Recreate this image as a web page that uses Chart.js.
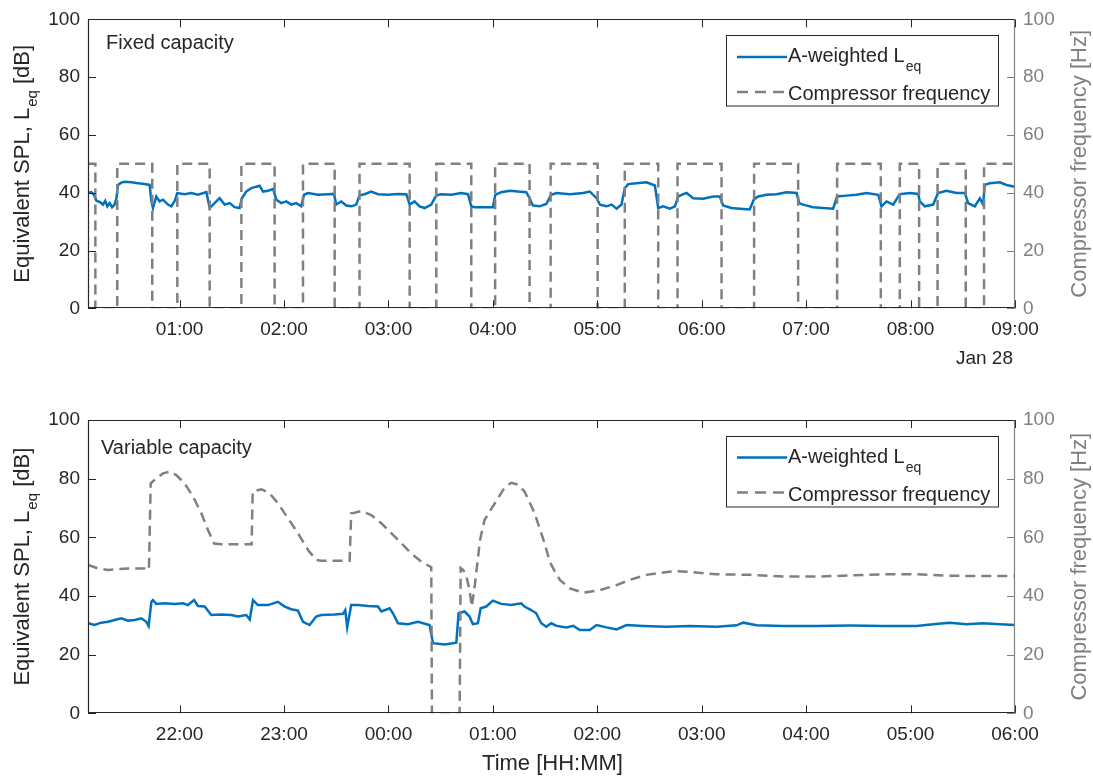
<!DOCTYPE html>
<html><head><meta charset="utf-8">
<script src="https://cdn.jsdelivr.net/npm/chart.js@4.4.1/dist/chart.umd.min.js"></script>
<style>
html,body{margin:0;padding:0;background:#fff;}
#wrap{position:relative;width:1093px;height:780px;overflow:hidden;}
canvas{position:absolute;left:0;}
</style></head><body>
<div id="wrap">
<canvas id="c1" width="1093" height="390" style="top:0"></canvas>
<canvas id="c2" width="1093" height="390" style="top:390px"></canvas>
</div>
<script>
// ---------- DATA (time in minutes from panel start hour) ----------
// Top panel: minutes after 00:00, Jan 28
const topTickMinutes = [60,120,180,240,300,360,420,480,540];
const topTickLabels = ["01:00","02:00","03:00","04:00","05:00","06:00","07:00","08:00","09:00"];
const topSplTimes = [7.4,9.3,10.8,12.2,14.1,16.0,17.3,18.5,19.8,21.2,22.7,23.7,24.6,26.5,28.4,32.3,36.1,39.9,42.8,43.8,44.7,46.6,48.5,50.5,53.3,55.3,57.2,58.7,62.9,66.7,70.6,75.4,77.3,80.1,83.0,85.9,88.8,91.6,94.5,95.8,98.3,101.2,104.1,106.0,107.9,110.8,113.7,115.6,118.4,121.3,124.2,127.1,129.9,131.5,133.8,139.5,145.2,148.7,150.0,152.9,155.8,158.7,161.5,163.4,166.3,170.1,174.0,179.7,185.5,190.3,192.2,195.0,197.9,200.8,204.6,207.5,210.4,216.1,221.8,225.7,227.6,229.5,240.0,241.4,244.8,249.6,254.4,259.2,261.1,263.0,266.8,270.7,273.5,276.6,284.2,291.9,295.7,299.6,301.5,305.3,308.2,311.1,313.9,315.8,317.8,322.5,328.3,333.1,335.0,337.9,341.7,344.6,346.5,349.4,351.3,355.1,360.8,366.6,370.4,372.3,377.1,381.9,387.6,389.9,392.4,397.2,403.0,408.7,414.5,416.0,418.3,424.0,429.8,435.5,437.8,443.2,448.9,454.7,461.4,463.3,466.2,470.0,473.8,479.6,484.4,485.3,488.2,493.0,495.8,500.6,506.4,511.2,513.1,516.9,519.8,521.7,522.6,525.5,531.3,535.1,540.0];
const topSplDb = [39.9,40.2,39.3,37.2,36.8,35.9,37.2,35.3,36.4,35.0,35.9,38.1,42.7,43.5,43.8,43.6,43.3,43.0,42.7,37.0,34.7,38.7,37.0,37.6,35.9,35.3,37.2,39.9,39.5,39.9,39.3,40.2,34.7,36.4,38.1,35.9,36.4,35.0,34.7,38.1,40.4,41.6,42.1,42.4,40.4,40.7,41.3,37.6,36.4,37.0,35.9,36.4,35.3,39.3,39.9,39.3,39.5,39.6,35.9,37.0,35.6,35.3,35.9,39.1,39.5,40.4,39.5,39.3,39.6,39.5,35.9,37.0,35.3,34.7,35.9,39.1,39.5,39.3,39.9,39.5,35.3,35.0,35.0,39.3,40.2,40.7,40.4,40.2,38.1,35.6,35.3,36.1,39.3,39.9,39.5,39.9,40.4,38.1,35.9,35.3,35.9,34.5,35.9,41.6,43.0,43.3,43.6,42.5,34.7,35.3,34.5,35.3,38.7,39.5,39.9,38.1,37.9,38.7,38.7,35.6,34.7,34.5,34.2,37.6,38.7,39.3,39.5,40.2,39.9,36.4,35.9,35.0,34.7,34.5,38.7,39.0,39.3,39.9,39.3,35.3,37.0,35.9,39.5,39.9,39.6,37.0,35.3,35.9,39.9,40.7,39.9,39.9,36.4,35.3,38.1,35.9,42.7,43.3,43.6,42.7,42.1];
const topCompTimes = [7.4,11.6,24.2,44.3,58.7,77.3,95.5,114.6,130.9,149.1,163.4,192.2,207.5,227.6,241.3,261.1,273.2,300.2,315.8,335.0,346.1,371.4,390.1,415.4,437.8,462.9,473.8,484.9,495.5,511.7,522.2,540.0];
const topCompHz = [50,0,50,0,50,0,50,0,50,0,50,0,50,0,50,0,50,0,50,0,50,0,50,0,50,0,50,0,50,0,50,50];

// Bottom panel: minutes after 21:00
const botTickMinutes = [60,120,180,240,300,360,420,480,540];
const botTickLabels = ["22:00","23:00","00:00","01:00","02:00","03:00","04:00","05:00","06:00"];
const botSplTimes = [7.4,11.2,15.0,18.9,22.7,26.5,30.4,34.2,38.0,40.9,42.2,43.8,44.7,46.6,51.4,57.2,62.0,64.8,68.3,70.6,74.4,78.2,84.0,89.7,93.5,98.3,100.3,102.2,105.0,110.8,116.5,120.4,124.2,128.0,130.9,134.7,138.5,141.4,149.1,153.9,155.2,156.3,158.6,162.5,168.2,174.0,175.9,180.7,182.6,185.5,191.2,196.9,203.6,205.6,212.3,219.0,220.3,223.8,226.6,228.5,231.4,233.0,236.2,240.0,244.8,250.6,256.3,258.2,262.0,264.9,267.8,270.7,273.5,276.6,282.3,286.2,290.0,295.7,299.6,305.3,311.1,316.8,326.4,339.8,353.2,368.5,380.0,383.8,391.5,406.8,425.9,445.1,464.2,483.4,493.0,502.5,512.1,521.7,531.3,540.0];
const botSplDb = [30.7,30.1,30.9,31.2,31.8,32.4,31.6,31.8,32.4,31.2,29.8,38.0,38.6,37.3,37.5,37.3,37.5,36.9,38.6,36.6,36.4,33.5,33.7,33.5,33.0,33.5,32.0,38.6,36.9,36.9,38.0,36.4,35.5,35.0,31.2,30.1,33.0,33.5,33.7,33.9,35.2,29.3,36.9,36.9,36.6,36.4,34.7,35.8,34.1,30.7,30.4,31.2,30.1,23.9,23.5,24.1,34.1,34.7,33.0,30.4,30.7,35.8,36.4,38.4,37.3,36.9,37.5,36.4,35.2,34.1,30.7,29.5,30.7,29.8,29.3,29.8,28.4,28.4,30.1,29.3,28.6,30.1,29.8,29.5,29.8,29.5,30.0,30.9,30.0,29.8,29.8,29.9,29.8,29.8,30.4,30.9,30.4,30.7,30.4,30.1];
const botCompTimes = [7.4,13.1,18.9,30.4,40.0,42.4,43.4,46.6,50.5,54.3,58.1,62.9,67.7,72.5,76.3,79.8,84.0,101.4,102.0,107.0,111.7,116.5,122.3,128.0,133.8,138.5,141.4,157.7,158.6,160.6,164.4,170.1,175.9,181.6,187.4,193.1,198.9,204.6,205.0,220.9,221.5,223.0,224.7,226.6,227.9,229.7,232.6,235.2,241.0,246.7,250.6,254.4,258.2,264.0,269.7,272.8,275.5,278.5,284.2,291.9,301.5,311.1,318.7,328.3,337.9,345.5,355.1,368.5,387.6,406.8,425.9,445.1,464.2,483.4,502.5,521.7,540.0];
const botCompHz = [50.6,49.4,48.9,49.4,49.4,48.9,78.4,80.1,81.8,82.4,81.2,78.4,73.9,68.2,62.5,57.9,57.6,57.6,75.6,76.4,75.0,71.6,66.5,61.4,55.7,52.3,52.0,52.0,68.2,68.4,69.0,67.6,64.8,61.4,58.0,54.5,51.7,49.8,0,0,49.5,48.8,47.0,42.0,36.4,44.0,59.0,65.9,71.5,76.9,78.6,78.0,75.6,68.2,58.0,51.5,48.5,45.5,42.6,41.1,42.0,43.7,45.5,47.2,48.0,48.5,48.1,47.4,47.2,46.6,46.6,47.0,47.4,47.4,46.9,46.8,46.8];

const yTicks = [0,20,40,60,80,100];

// ---------- STYLE ----------
const FONT = '"Liberation Sans", Arial, Helvetica, sans-serif';
const DARK = '#262626';
const GRAY = '#808080';
const BLUE = '#0072BD';
const X_MIN = 7.38, X_MAX = 540;

function pts(xs, ys){ return xs.map((x,i)=>({x:x, y:ys[i]})); }

const deco = {
  id: 'deco',
  afterDraw(chart, args, o) {
    const ctx = chart.ctx, a = chart.chartArea;
    const xs = chart.scales.x, yl = chart.scales.y, yr = chart.scales.y2;
    ctx.save();
    const seg = (x1,y1,x2,y2)=>{ctx.beginPath();ctx.moveTo(x1,y1);ctx.lineTo(x2,y2);ctx.stroke();};
    // inward tick marks
    ctx.lineWidth = 1;
    ctx.strokeStyle = DARK;
    xs.ticks.forEach(t=>{
      const px = Math.round(xs.getPixelForValue(t.value))+0.5;
      seg(px, a.bottom, px, a.bottom-8);
      seg(px, a.top, px, a.top+8);
    });
    yl.ticks.forEach(t=>{
      const py = Math.round(yl.getPixelForValue(t.value))+0.5;
      seg(a.left, py, a.left+8, py);
    });
    ctx.strokeStyle = GRAY;
    yr.ticks.forEach(t=>{
      const py = Math.round(yr.getPixelForValue(t.value))+0.5;
      seg(a.right, py, a.right-8, py);
    });
    // box
    const L = Math.round(a.left)+0.5, R = Math.round(a.right)-0.5, T = Math.round(a.top)+0.5, B = Math.round(a.bottom)-0.5;
    ctx.lineWidth = 1.2;
    ctx.strokeStyle = DARK;
    seg(L, T, L, B+0.5); seg(L, B, R, B); seg(L, T, R, T);
    ctx.strokeStyle = GRAY;
    seg(R, T, R, B+0.5);

    // panel label
    ctx.fillStyle = DARK;
    ctx.textBaseline = 'alphabetic';
    ctx.textAlign = 'left';
    ctx.font = '20px ' + FONT;
    ctx.fillText(o.panel, o.panelX, a.top + o.panelDy);

    // legend
    const bx = a.right - 289, by = a.top + 16, bw = 272, bh = 70.5;
    ctx.fillStyle = '#fff';
    ctx.fillRect(bx, by, bw, bh);
    ctx.lineWidth = 1;
    ctx.strokeStyle = DARK;
    ctx.strokeRect(Math.round(bx)+0.5, Math.round(by)+0.5, bw, bh);
    ctx.lineWidth = 2.5;
    ctx.strokeStyle = BLUE;
    seg(bx+11, a.top+37.6, bx+61, a.top+37.6);
    ctx.strokeStyle = GRAY;
    ctx.setLineDash([11,7]);
    seg(bx+11, a.top+72.6, bx+61, a.top+72.6);
    ctx.setLineDash([]);
    ctx.fillStyle = DARK;
    ctx.font = '20px ' + FONT;
    const t1 = 'A-weighted L';
    ctx.fillText(t1, bx+62, a.top+42.8);
    const w1 = ctx.measureText(t1).width;
    ctx.font = '14px ' + FONT;
    ctx.fillText('eq', bx+62+w1+1, a.top+52);
    ctx.font = '20px ' + FONT;
    ctx.fillText('Compressor frequency', bx+62, a.top+80.8);

    // x date / title
    if (o.dateLabel) {
      ctx.textAlign = 'right';
      ctx.font = '19px ' + FONT;
      ctx.fillText(o.dateLabel, a.right - 2, o.dateY);
    }
    if (o.xTitle) {
      ctx.textAlign = 'center';
      ctx.font = '22px ' + FONT;
      ctx.fillText(o.xTitle, (a.left + a.right)/2 + 1, o.xTitleY);
    }

    // left y title with subscript
    const cy = (a.top + a.bottom)/2;
    ctx.save();
    ctx.translate(29, cy);
    ctx.rotate(-Math.PI/2);
    ctx.textAlign = 'left';
    ctx.fillStyle = DARK;
    const p1 = 'Equivalent SPL, L', p2 = 'eq', p3 = ' [dB]';
    ctx.font = '22px ' + FONT;
    const w_1 = ctx.measureText(p1).width, w_3 = ctx.measureText(p3).width;
    ctx.font = '15px ' + FONT;
    const w_2 = ctx.measureText(p2).width;
    const tot = w_1 + w_2 + w_3 + 1;
    let x0 = -tot/2;
    ctx.font = '22px ' + FONT;
    ctx.fillText(p1, x0, 0);
    ctx.font = '15px ' + FONT;
    ctx.fillText(p2, x0 + w_1 + 1, 8);
    ctx.font = '22px ' + FONT;
    ctx.fillText(p3, x0 + w_1 + 1 + w_2, 0);
    ctx.restore();

    // right y title
    ctx.save();
    ctx.translate(1086, cy);
    ctx.rotate(-Math.PI/2);
    ctx.textAlign = 'center';
    ctx.fillStyle = GRAY;
    ctx.font = '22px ' + FONT;
    ctx.fillText('Compressor frequency [Hz]', 0, 0);
    ctx.restore();

    ctx.restore();
  }
};

function makeChart(id, splT, splV, compT, compV, stepped, tickMin, tickLab, padTop, padBottom, plug) {
  return new Chart(document.getElementById(id), {
    type: 'line',
    data: {
      datasets: [
        { label: 'Compressor frequency', data: pts(compT, compV), yAxisID: 'y2',
          borderColor: GRAY, borderWidth: 2.5, borderDash: [10,6], pointRadius: 0,
          stepped: stepped ? 'before' : false, tension: 0, fill: false },
        { label: 'A-weighted Leq', data: pts(splT, splV), yAxisID: 'y',
          borderColor: BLUE, borderWidth: 2.5, pointRadius: 0, tension: 0, fill: false }
      ]
    },
    options: {
      responsive: false, animation: false, devicePixelRatio: 1,
      layout: { padding: { left: 0, right: 0, top: padTop, bottom: padBottom } },
      plugins: { legend: { display: false }, tooltip: { enabled: false }, deco: plug },
      scales: {
        x: {
          type: 'linear', min: X_MIN, max: X_MAX,
          afterBuildTicks: s => { s.ticks = tickMin.map(v => ({ value: v })); },
          afterFit: s => { s.height = 40; },
          grid: { display: false, drawTicks: false }, border: { display: false },
          ticks: { autoSkip: false, maxRotation: 0, padding: 10.5, color: DARK,
                   font: { family: FONT, size: 19 },
                   callback: (v, i) => tickLab[i] }
        },
        y: {
          position: 'left', min: 0, max: 100,
          afterBuildTicks: s => { s.ticks = yTicks.map(v => ({ value: v })); },
          afterFit: s => { s.width = 88; },
          grid: { display: false, drawTicks: false }, border: { display: false },
          ticks: { padding: 8, color: DARK, font: { family: FONT, size: 19 } }
        },
        y2: {
          position: 'right', min: 0, max: 100,
          afterBuildTicks: s => { s.ticks = yTicks.map(v => ({ value: v })); },
          afterFit: s => { s.width = 78; },
          grid: { display: false, drawTicks: false }, border: { display: false },
          ticks: { padding: 8, color: GRAY, font: { family: FONT, size: 19 } }
        }
      }
    },
    plugins: [deco]
  });
}

makeChart('c1', topSplTimes, topSplDb, topCompTimes, topCompHz, true, topTickMinutes, topTickLabels, 15.7, 41.7,
  { panel: 'Fixed capacity', panelX: 106, panelDy: 30, dateLabel: 'Jan 28', dateY: 364 });
makeChart('c2', botSplTimes, botSplDb, botCompTimes, botCompHz, false, botTickMinutes, botTickLabels, 30, 26.7,
  { panel: 'Variable capacity', panelX: 101, panelDy: 34.3, xTitle: 'Time [HH:MM]', xTitleY: 380 });
</script>
</body></html>
